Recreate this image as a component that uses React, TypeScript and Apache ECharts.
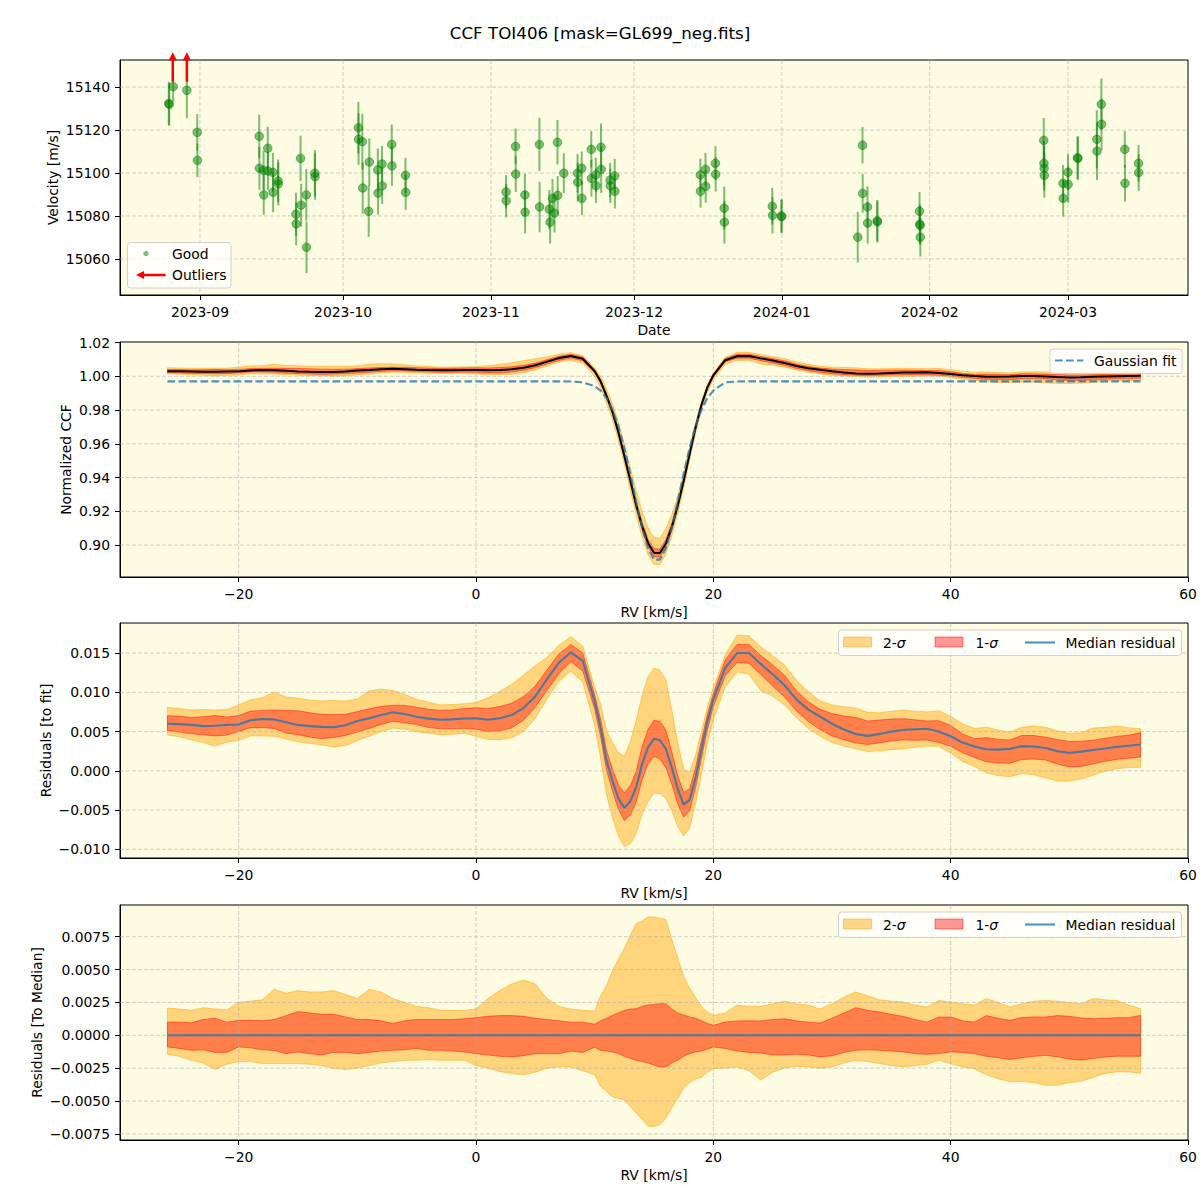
import React, { useEffect, useRef } from 'react';
import * as echarts from 'echarts';

const FONT = 'DejaVu Sans';
const BG = '#fdfbe2';
const TITLE = 'CCF TOI406 [mask=GL699_neg.fits]';

// ---------- Panel 1: RV time series ----------
const rvDates = [
  '2023-08-25T11:00', '2023-08-25T13:00', '2023-08-26T09:00', '2023-08-29T06:00', '2023-08-31T10:00', '2023-08-31T11:00',
  '2023-09-13T10:00', '2023-09-13T11:00', '2023-09-14T08:00', '2023-09-14T09:00', '2023-09-15T05:00', '2023-09-15T06:00',
  '2023-09-16T07:00', '2023-09-16T08:00', '2023-09-17T09:00', '2023-09-17T10:00', '2023-09-21T03:00', '2023-09-21T04:00',
  '2023-09-22T02:00', '2023-09-22T05:00', '2023-09-23T07:00', '2023-09-23T08:00', '2023-09-25T02:00', '2023-09-25T03:00',
  '2023-10-04T05:00', '2023-10-04T06:00', '2023-10-05T01:00', '2023-10-05T03:00', '2023-10-06T12:00', '2023-10-06T09:00',
  '2023-10-08T07:00', '2023-10-08T08:00', '2023-10-09T04:00', '2023-10-09T05:00', '2023-10-11T05:00', '2023-10-11T06:00',
  '2023-10-14T02:00', '2023-10-14T03:00',
  '2023-11-04T04:00', '2023-11-04T05:00', '2023-11-06T04:00', '2023-11-06T05:00', '2023-11-08T03:00', '2023-11-08T04:00',
  '2023-11-11T04:00', '2023-11-11T05:00', '2023-11-13T06:00', '2023-11-13T10:00', '2023-11-13T22:00', '2023-11-14T08:00',
  '2023-11-14T23:00', '2023-11-15T00:00', '2023-11-16T07:00', '2023-11-19T04:00', '2023-11-19T05:00', '2023-11-20T01:00',
  '2023-11-20T02:00', '2023-11-22T01:00', '2023-11-22T02:00', '2023-11-23T00:00', '2023-11-23T01:00', '2023-11-24T02:00',
  '2023-11-24T03:00', '2023-11-26T00:00', '2023-11-26T01:00', '2023-11-26T23:00', '2023-11-27T00:00',
  '2023-12-14T22:00', '2023-12-14T23:00', '2023-12-16T00:00', '2023-12-16T01:00', '2023-12-18T02:00', '2023-12-18T03:00',
  '2023-12-19T22:00', '2023-12-19T23:00', '2023-12-30T00:00', '2023-12-30T01:00', '2023-12-31T22:00', '2023-12-31T23:00',
  '2024-01-16T22:00', '2024-01-17T22:00', '2024-01-17T23:00', '2024-01-18T23:00', '2024-01-19T00:00', '2024-01-21T00:00',
  '2024-01-21T01:00', '2024-01-29T21:00', '2024-01-29T22:00', '2024-01-30T00:00', '2024-01-30T01:00',
  '2024-02-24T22:00', '2024-02-24T23:00', '2024-02-25T00:00', '2024-02-25T01:00', '2024-02-28T23:00', '2024-02-29T00:00',
  '2024-03-01T00:00', '2024-03-01T01:00', '2024-03-03T00:00', '2024-03-03T02:00', '2024-03-07T01:00', '2024-03-07T02:00',
  '2024-03-08T00:00', '2024-03-08T01:00', '2024-03-12T22:00', '2024-03-12T23:00', '2024-03-15T19:00', '2024-03-15T20:00',
];
const rvValues = [
  15132.4, 15132.0, 15140.2, 15138.5, 15118.9, 15105.9,
  15117.1, 15102.2, 15101.3, 15089.8, 15111.5, 15100.9, 15100.3, 15091.0, 15096.3, 15094.9, 15080.8, 15076.3,
  15106.8, 15085.0, 15089.8, 15065.4, 15099.9, 15098.3,
  15121.1, 15115.7, 15114.6, 15093.0, 15105.1, 15082.2, 15101.4, 15090.6, 15104.2, 15094.0, 15113.3, 15103.3,
  15098.9, 15091.0,
  15091.2, 15087.1, 15112.4, 15099.5, 15089.8, 15081.7, 15113.3, 15084.2, 15083.1, 15077.1, 15088.2, 15081.3,
  15114.3, 15089.6, 15099.9, 15099.9, 15095.7, 15102.2, 15088.2, 15111.0, 15097.5, 15099.1, 15094.1, 15112.0,
  15101.7, 15096.7, 15094.0, 15098.6, 15091.5,
  15099.1, 15091.5, 15101.7, 15093.8, 15104.5, 15099.4, 15083.6, 15077.1, 15084.5, 15080.3, 15080.0, 15079.7,
  15070.1, 15112.9, 15090.5, 15084.2, 15076.7, 15077.8, 15077.2, 15082.2, 15076.2, 15075.6, 15070.1,
  15115.2, 15104.5, 15102.2, 15098.9, 15095.2, 15088.2, 15100.3, 15094.7, 15107.1, 15106.8, 15115.7, 15110.2,
  15132.0, 15122.7, 15111.0, 15095.2, 15104.5, 15100.2,
];
const rvErrors = [
  10, 10, 7, 13, 8.5, 7.8,
  10, 10, 9, 9.3, 10, 9, 9, 9.3, 10, 10, 10, 10, 10.6, 10, 12, 12, 10.8, 10.8,
  12, 12, 13, 12, 11, 12, 10, 10, 8.4, 8.4, 9.3, 9.3, 8.2, 8.2,
  7.8, 7.8, 8.3, 8.3, 9.8, 9.8, 12.4, 11.8, 9, 10, 9, 9, 10.4, 9, 9.3, 9, 9, 7.8, 7.8, 8.5, 8.5, 8, 8, 11, 11, 8, 8, 8, 8,
  7.6, 7.6, 7.6, 7.6, 8, 8, 10, 10, 8.5, 8.5, 7.8, 7.8,
  11.8, 8.5, 9, 9.6, 9.6, 9.6, 9.6, 9, 9, 9, 9,
  10.4, 10.4, 10.4, 10.4, 8.5, 8.5, 8.5, 8.5, 10, 10, 13.5, 13.5, 12, 12, 8.5, 8.5, 8.5, 8.5,
];
const outlierDates = ['2023-08-26T07:00', '2023-08-29T06:00'];
const outlierArrowFrom = 15142.5;
const outlierArrowTo = 15156.2;
const dateTicks = ['2023-09-01T00:00', '2023-10-01T00:00', '2023-11-01T00:00', '2023-12-01T00:00', '2024-01-01T00:00', '2024-02-01T00:00', '2024-03-01T00:00'];
const dateMin = '2023-08-15T05:30';
const dateMax = '2024-03-26T04:00';
const velTicks = [15060, 15080, 15100, 15120, 15140];

// ---------- Panels 2-4: CCF ----------
const rvGrid = [
  -26, -25, -24, -23, -22, -21, -20, -19, -18, -17, -16, -15, -14, -13, -12, -11, -10, -9, -8, -7, -6, -5, -4, -3, -2, -1,
  0, 1, 2, 3, 4, 5, 6, 7, 8, 9, 10,
  10.5, 11, 11.5, 12, 12.5, 13, 13.5, 14, 14.5, 15, 15.5, 16, 16.5, 17, 17.5, 18, 18.5, 19, 19.5,
  20, 21, 22, 23, 24, 25, 26, 27, 28, 29, 30, 31, 32, 33, 34, 35, 36, 37, 38, 39, 40, 41, 42, 43, 44, 45, 46, 47, 48, 49,
  50, 51, 52, 53, 54, 55, 56,
];
const gaussFit = [
  // -26 .. 10
  0.997, 0.997, 0.997, 0.997, 0.997, 0.997, 0.997, 0.997, 0.997, 0.997, 0.997, 0.997, 0.997, 0.997, 0.997, 0.997, 0.997,
  0.997, 0.997, 0.997, 0.997, 0.997, 0.997, 0.997, 0.997, 0.997, 0.997, 0.997, 0.997, 0.997, 0.997, 0.997, 0.997, 0.997,
  0.9969, 0.9964, 0.9942,
  // 10.5 .. 19.5
  0.9915, 0.9871, 0.9802, 0.9704, 0.9576, 0.9423, 0.9258, 0.9103, 0.8981, 0.8914, 0.8914, 0.8981, 0.9103, 0.9258, 0.9423,
  0.9576, 0.9704, 0.9802, 0.9871,
  // 20 .. 56
  0.9915, 0.9964, 0.9969, 0.997, 0.997, 0.997, 0.997, 0.997, 0.997, 0.997, 0.997, 0.997, 0.997, 0.997, 0.997, 0.997,
  0.997, 0.997, 0.997, 0.997, 0.997, 0.997, 0.997, 0.997, 0.997, 0.997, 0.997, 0.997, 0.997, 0.997, 0.997, 0.997, 0.997,
  0.997, 0.997, 0.997, 0.997,
];
const residMedian = [
  0.006, 0.00595, 0.00585, 0.0057, 0.00575, 0.00585, 0.0059, 0.00645, 0.0066, 0.00655, 0.0062, 0.00585, 0.0057, 0.0056,
  0.00555, 0.0058, 0.00635, 0.0067, 0.0071, 0.00745, 0.00723, 0.0069, 0.00665, 0.0065, 0.00655, 0.00667,
  0.0067, 0.0065, 0.0067, 0.0071, 0.008, 0.0095, 0.0117, 0.0138, 0.0151, 0.014, 0.0088,
  0.0055, 0.0013, -0.0013, -0.0035, -0.00472, -0.0039, -0.0021, 0.0009, 0.003, 0.0041, 0.0039, 0.0028, 0.0004, -0.0023,
  -0.0043, -0.0037, -0.0009, 0.0028, 0.0063,
  0.0091, 0.0131, 0.015, 0.015, 0.0136, 0.0123, 0.0109, 0.0091, 0.0078, 0.0069, 0.006, 0.00527, 0.0047, 0.00445, 0.0047,
  0.005, 0.0052, 0.0053, 0.00536, 0.005, 0.0044, 0.0036, 0.0031, 0.00275, 0.0027, 0.0028, 0.00315, 0.0031, 0.0029, 0.0025,
  0.0023, 0.00245, 0.00265, 0.00285, 0.00305, 0.0032, 0.00335,
];
// spread of the individual residuals around the median (2-sigma / 1-sigma, upper and lower)
const sig2Upper = [
  0.00207, 0.002, 0.0019, 0.0021, 0.002, 0.00195, 0.0025, 0.0026, 0.0027, 0.0035, 0.0032, 0.0034, 0.0033, 0.0033, 0.0034,
  0.0031, 0.0028, 0.0035, 0.0033, 0.0028, 0.0025, 0.0022, 0.0021, 0.0019, 0.0019, 0.00189,
  0.002, 0.0028, 0.0034, 0.0039, 0.0042, 0.0039, 0.0028, 0.0022, 0.002, 0.0019, 0.00185,
  0.003, 0.0038, 0.0049, 0.0058, 0.0066, 0.0076, 0.0085, 0.0087, 0.009, 0.009, 0.0089, 0.0088, 0.0073, 0.0059, 0.0045,
  0.0036, 0.0029, 0.0022, 0.0018,
  0.00152, 0.0017, 0.0023, 0.0022, 0.0022, 0.0024, 0.0026, 0.0024, 0.0023, 0.002, 0.0024, 0.0029, 0.0033, 0.003, 0.0027,
  0.0026, 0.00253, 0.0023, 0.00215, 0.00265, 0.00253, 0.0024, 0.0023, 0.0028, 0.0025, 0.00215, 0.0024, 0.0026, 0.00265,
  0.0026, 0.0025, 0.0024, 0.0028, 0.0027, 0.00265, 0.0023, 0.00202,
];
const sig1Upper = [
  0.00101, 0.001, 0.00095, 0.0012, 0.0013, 0.001, 0.00114, 0.00115, 0.0011, 0.0012, 0.0015, 0.0018, 0.0017, 0.0016, 0.0016,
  0.0014, 0.0012, 0.0012, 0.0011, 0.0009, 0.0011, 0.0012, 0.0012, 0.0012, 0.0012, 0.00126,
  0.00134, 0.00145, 0.0015, 0.0015, 0.00145, 0.0013, 0.0012, 0.0011, 0.001, 0.001, 0.00085,
  0.0011, 0.0013, 0.00152, 0.0017, 0.0019, 0.002, 0.00202, 0.0022, 0.0023, 0.00235, 0.0024, 0.0024, 0.002, 0.0017, 0.00155,
  0.0014, 0.0013, 0.0011, 0.0009,
  0.00076, 0.00101, 0.00109, 0.0011, 0.00109, 0.0012, 0.00126, 0.0011, 0.001, 0.00093, 0.0013, 0.0017, 0.0021, 0.0019,
  0.00177, 0.0016, 0.00144, 0.0012, 0.001, 0.00139, 0.00139, 0.0011, 0.001, 0.0015, 0.0013, 0.00114, 0.00135, 0.0014,
  0.00139, 0.0015, 0.00145, 0.00132, 0.00126, 0.0013, 0.00134, 0.00134, 0.00152,
];
const sig1Lower = [
  -0.00088, -0.001, -0.00114, -0.0011, -0.0013, -0.0013, -0.00088, -0.00095, -0.0011, -0.00115, -0.0014, -0.00126, -0.0014,
  -0.0015, -0.0013, -0.0013, -0.0014, -0.0013, -0.0012, -0.00114, -0.0011, -0.001, -0.00114, -0.00114, -0.0012, -0.00126,
  -0.00139, -0.0015, -0.0016, -0.00164, -0.00155, -0.00139, -0.00139, -0.0014, -0.0012, -0.0013, -0.0009,
  -0.00114, -0.0012, -0.00126, -0.00139, -0.0016, -0.00175, -0.00189, -0.002, -0.0021, -0.00227, -0.0024, -0.0024, -0.0021,
  -0.0019, -0.0016, -0.0014, -0.00126, -0.0012, -0.00105,
  -0.00088, -0.001, -0.00119, -0.0013, -0.00134, -0.0015, -0.0015, -0.00144, -0.0015, -0.00164, -0.00155, -0.0013, -0.00114,
  -0.0011, -0.00114, -0.0012, -0.00126, -0.0014, -0.00144, -0.00139, -0.00126, -0.0013, -0.00139, -0.0016, -0.0017, -0.00184,
  -0.0017, -0.0016, -0.00152, -0.00164, -0.0018, -0.00189, -0.00177, -0.00164, -0.00159, -0.00159, -0.00159,
];
const sig2Lower = [
  -0.00144, -0.0016, -0.0019, -0.0021, -0.0026, -0.0022, -0.002, -0.002, -0.00215, -0.00215, -0.00215, -0.00215, -0.0022,
  -0.0023, -0.0025, -0.0026, -0.0025, -0.0023, -0.0021, -0.002, -0.0019, -0.0019, -0.00185, -0.0019, -0.0019, -0.00189,
  -0.0023, -0.0025, -0.00275, -0.0029, -0.003, -0.0028, -0.0025, -0.0024, -0.0024, -0.0027, -0.003,
  -0.0039, -0.0043, -0.00467, -0.0048, -0.00492, -0.0054, -0.00593, -0.0064, -0.0069, -0.00694, -0.0068, -0.0063, -0.0055,
  -0.0048, -0.004, -0.0036, -0.0033, -0.0032, -0.0028,
  -0.00253, -0.0025, -0.0024, -0.0027, -0.0034, -0.0028, -0.0025, -0.00235, -0.0024, -0.0025, -0.0024, -0.0021, -0.0019,
  -0.002, -0.00215, -0.0023, -0.0024, -0.0023, -0.0022, -0.00189, -0.00215, -0.0024, -0.00255, -0.003, -0.0033, -0.00354,
  -0.0035, -0.0036, -0.0038, -0.0038, -0.0036, -0.0035, -0.0032, -0.0029, -0.00278, -0.00278, -0.0029,
];
const rvTicks = [-20, 0, 20, 40, 60];
const ccfTicks = [0.9, 0.92, 0.94, 0.96, 0.98, 1.0, 1.02];
const resTicks = [-0.01, -0.005, 0, 0.005, 0.01, 0.015];
const medTicks = [-0.0075, -0.005, -0.0025, 0, 0.0025, 0.005, 0.0075];

// ---------- helpers ----------
const ts = (s: string) => new Date(s).getTime();
const minus = (s: string) => s.replace('-', '\u2212');
const fmtFixed = (n: number) => (v: number) => (v < 0 ? '\u2212' + Math.abs(v).toFixed(n) : Math.abs(v).toFixed(n));
const pad = (n: number) => (n < 10 ? '0' + n : '' + n);

const GRIDS = [
  { left: 120, top: 60, width: 1068, height: 235 },
  { left: 120, top: 342, width: 1068, height: 235 },
  { left: 120, top: 623, width: 1068, height: 235 },
  { left: 120, top: 905, width: 1068, height: 235 },
];

const ORANGE_FILL = 'rgba(255,165,0,0.45)';
const ORANGE_EDGE = 'rgba(255,165,0,0.5)';
const RED_FILL = 'rgba(255,0,0,0.4)';
const RED_EDGE = 'rgba(255,0,0,0.45)';
const BLUE = 'rgba(31,119,180,0.8)';
const GREEN = 'rgba(0,128,0,0.5)';
const GRID_LINE = 'rgba(176,176,176,0.6)';

function axisBase(extra: any) {
  return {
    axisLine: { show: true, onZero: false, lineStyle: { color: '#000', width: 1 } },
    axisTick: { show: true, length: 5, inside: false, lineStyle: { color: '#000', width: 1 } },
    axisLabel: { color: '#000', fontSize: 13.9, fontFamily: FONT, margin: 10 },
    splitLine: { show: false },
    nameLocation: 'middle',
    nameMoveOverlap: false,
    nameTextStyle: { color: '#000', fontSize: 13.9, fontFamily: FONT },
    ...extra,
  };
}

function bandSeries(idx: number, lo: number[], hi: number[], fill: string, stroke: string) {
  const data = rvGrid.map((x, i) => [x, lo[i], hi[i]]);
  return {
    type: 'custom',
    xAxisIndex: idx,
    yAxisIndex: idx,
    z: 1,
    silent: true,
    data,
    encode: { x: 0, y: [1, 2] },
    renderItem: (params: any, api: any) => {
      if (params.dataIndex !== 0) return null;
      const pts: number[][] = [];
      for (let i = 0; i < data.length; i++) pts.push(api.coord([data[i][0], data[i][2]]));
      for (let i = data.length - 1; i >= 0; i--) pts.push(api.coord([data[i][0], data[i][1]]));
      return { type: 'polygon', shape: { points: pts }, style: { fill, stroke, lineWidth: 1 } };
    },
  };
}

function gridLines(idx: number, xTicks: number[], yTicks: number[]) {
  return {
    type: 'custom',
    xAxisIndex: idx,
    yAxisIndex: idx,
    z: 2,
    silent: true,
    data: [[xTicks[0], yTicks[0]]],
    encode: { x: 0, y: 1 },
    renderItem: (params: any, api: any) => {
      const cs = params.coordSys;
      const children: any[] = [];
      const st = { stroke: GRID_LINE, lineWidth: 1, lineDash: [4, 2] };
      xTicks.forEach((v) => {
        const x = api.coord([v, yTicks[0]])[0];
        if (x > cs.x + 1 && x < cs.x + cs.width - 1)
          children.push({ type: 'line', shape: { x1: x, y1: cs.y, x2: x, y2: cs.y + cs.height }, style: st });
      });
      yTicks.forEach((v) => {
        const y = api.coord([xTicks[0], v])[1];
        if (y > cs.y + 1 && y < cs.y + cs.height - 1)
          children.push({ type: 'line', shape: { x1: cs.x, y1: y, x2: cs.x + cs.width, y2: y }, style: st });
      });
      return { type: 'group', children };
    },
  };
}

function lineSeries(idx: number, ys: number[], color: string, width: number, z: number, dash?: number[]) {
  return {
    type: 'line',
    xAxisIndex: idx,
    yAxisIndex: idx,
    z,
    silent: true,
    showSymbol: false,
    symbol: 'none',
    data: rvGrid.map((x, i) => [x, ys[i]]),
    lineStyle: { color, width, type: dash || 'solid' },
  };
}

function legendBox(x: number, y: number, w: number, h: number) {
  return {
    type: 'rect',
    shape: { x, y, width: w, height: h, r: 3 },
    style: { fill: 'rgba(255,255,255,0.8)', stroke: '#d0d0d0', lineWidth: 1 },
    z: 100,
  };
}
function legendText(x: number, y: number, text: string, rich?: any) {
  const style: any = {
    text,
    fill: '#000',
    fontSize: 13.9,
    fontFamily: FONT,
    align: 'left',
    verticalAlign: 'middle',
  };
  if (rich) style.rich = rich;
  return { type: 'text', x, y, z: 101, style };
}
function sigmaLegend(cy: number) {
  const rich = { i: { fontStyle: 'italic', fontSize: 13.9, fontFamily: FONT, fill: '#000' } };
  return [
    legendBox(838.5, cy - 12.5, 343, 25.5),
    { type: 'rect', z: 101, shape: { x: 843.5, y: cy - 5.5, width: 28, height: 10 }, style: { fill: ORANGE_FILL, stroke: ORANGE_EDGE, lineWidth: 1 } },
    legendText(883, cy, '2-{i|σ}', rich),
    { type: 'rect', z: 101, shape: { x: 935, y: cy - 5.5, width: 28, height: 10 }, style: { fill: RED_FILL, stroke: RED_EDGE, lineWidth: 1 } },
    legendText(975.5, cy, '1-{i|σ}', rich),
    { type: 'line', z: 101, shape: { x1: 1025, y1: cy, x2: 1055, y2: cy }, style: { stroke: BLUE, lineWidth: 2.1 } },
    legendText(1065.5, cy, 'Median residual'),
  ];
}

function buildOption() {
  const ccf = gaussFit.map((g, i) => g + residMedian[i]);
  const ccf2Lo = ccf.map((c, i) => c + sig2Lower[i]);
  const ccf2Hi = ccf.map((c, i) => c + sig2Upper[i]);
  const ccf1Lo = ccf.map((c, i) => c + sig1Lower[i]);
  const ccf1Hi = ccf.map((c, i) => c + sig1Upper[i]);
  const res2Lo = residMedian.map((m, i) => m + sig2Lower[i]);
  const res2Hi = residMedian.map((m, i) => m + sig2Upper[i]);
  const res1Lo = residMedian.map((m, i) => m + sig1Lower[i]);
  const res1Hi = residMedian.map((m, i) => m + sig1Upper[i]);
  const toMedian = residMedian.map((m) => m - m);

  const dateTickTs = dateTicks.map(ts);
  const rvData = rvDates.map((d, i) => [ts(d), rvValues[i], rvErrors[i]]);

  const rvXAxis = (idx: number) =>
    axisBase({
      type: 'value',
      gridIndex: idx,
      min: -30,
      max: 60,
      name: 'RV [km/s]',
      nameGap: 28,
      axisTick: { show: true, length: 5, customValues: rvTicks, lineStyle: { color: '#000', width: 1 } },
      axisLabel: { color: '#000', fontSize: 13.9, fontFamily: FONT, margin: 10, customValues: rvTicks, formatter: (v: number) => minus(String(v)) },
    });

  const yAxisFor = (idx: number, min: number, max: number, ticks: number[], fmt: (v: number) => string, name: string, gap: number) =>
    axisBase({
      type: 'value',
      gridIndex: idx,
      min,
      max,
      name,
      nameGap: gap,
      axisTick: { show: true, length: 5, customValues: ticks, lineStyle: { color: '#000', width: 1 } },
      axisLabel: { color: '#000', fontSize: 13.9, fontFamily: FONT, margin: 10, customValues: ticks, formatter: fmt },
    });

  const graphic: any[] = [
    // panel 1 legend
    legendBox(127.5, 242.5, 103.5, 45.5),
    { type: 'circle', z: 101, shape: { cx: 146, cy: 253.5, r: 2.7 }, style: { fill: GREEN } },
    legendText(172, 253.5, 'Good'),
    { type: 'line', z: 101, shape: { x1: 142, y1: 275, x2: 165.5, y2: 275 }, style: { stroke: 'red', lineWidth: 2.5 } },
    { type: 'polygon', z: 101, shape: { points: [[136, 275], [144, 271], [144, 279]] }, style: { fill: 'red' } },
    legendText(172, 275, 'Outliers'),
    // panel 2 legend
    legendBox(1050, 349, 132, 24.5),
    { type: 'line', z: 101, shape: { x1: 1055, y1: 360.5, x2: 1083.5, y2: 360.5 }, style: { stroke: BLUE, lineWidth: 2.1, lineDash: [7.7, 3.3] } },
    legendText(1094, 361, 'Gaussian fit'),
    ...sigmaLegend(642.5),
    ...sigmaLegend(924.5),
  ];

  return {
    animation: false,
    backgroundColor: '#ffffff',
    title: {
      text: TITLE,
      left: 'center',
      top: 19,
      textStyle: { fontSize: 16.7, fontWeight: 'normal', fontFamily: FONT, color: '#000' },
    },
    grid: GRIDS.map((g) => ({ ...g, show: true, backgroundColor: BG, borderColor: '#000', borderWidth: 1, containLabel: false })),
    xAxis: [
      axisBase({
        type: 'value',
        gridIndex: 0,
        min: ts(dateMin),
        max: ts(dateMax),
        name: 'Date',
        nameGap: 28,
        axisTick: { show: true, length: 5, customValues: dateTickTs, lineStyle: { color: '#000', width: 1 } },
        axisLabel: {
          color: '#000',
          fontSize: 13.9,
          fontFamily: FONT,
          margin: 10,
          customValues: dateTickTs,
          formatter: (v: number) => {
            const d = new Date(v);
            return d.getFullYear() + '-' + pad(d.getMonth() + 1);
          },
        },
      }),
      rvXAxis(1),
      rvXAxis(2),
      rvXAxis(3),
    ],
    yAxis: [
      yAxisFor(0, 15043.2, 15152.6, velTicks, (v: number) => String(v), 'Velocity [m/s]', 60),
      yAxisFor(1, 0.8811, 1.0203, ccfTicks, fmtFixed(2), 'Normalized CCF', 47),
      yAxisFor(2, -0.0111, 0.01883, resTicks, fmtFixed(3), 'Residuals [to fit]', 67),
      yAxisFor(3, -0.00796, 0.00991, medTicks, fmtFixed(4), 'Residuals [To Median]', 76),
    ],
    graphic,
    series: [
      // ----- panel 1 -----
      gridLines(0, dateTickTs, velTicks),
      {
        type: 'custom',
        xAxisIndex: 0,
        yAxisIndex: 0,
        z: 3,
        silent: true,
        data: rvData,
        encode: { x: 0, y: 1 },
        renderItem: (params: any, api: any) => {
          const t = api.value(0);
          const v = api.value(1);
          const e = api.value(2);
          const a = api.coord([t, v - e]);
          const b = api.coord([t, v + e]);
          return { type: 'line', shape: { x1: a[0], y1: a[1], x2: b[0], y2: b[1] }, style: { stroke: GREEN, lineWidth: 2 } };
        },
      },
      {
        type: 'scatter',
        name: 'Good',
        xAxisIndex: 0,
        yAxisIndex: 0,
        z: 4,
        silent: true,
        symbol: 'circle',
        symbolSize: 8.5,
        data: rvData.map((d) => [d[0], d[1]]),
        itemStyle: { color: GREEN, borderColor: GREEN, borderWidth: 1, opacity: 1 },
      },
      {
        type: 'custom',
        name: 'Outliers',
        xAxisIndex: 0,
        yAxisIndex: 0,
        z: 5,
        silent: true,
        clip: false,
        data: outlierDates.map((d) => [ts(d), outlierArrowFrom, outlierArrowTo]),
        encode: { x: 0, y: 1 },
        renderItem: (params: any, api: any) => {
          const t = api.value(0);
          const a = api.coord([t, api.value(1)]);
          const b = api.coord([t, api.value(2)]);
          return {
            type: 'group',
            children: [
              { type: 'line', shape: { x1: a[0], y1: a[1], x2: b[0], y2: b[1] + 6 }, style: { stroke: 'red', lineWidth: 2.5 } },
              { type: 'polygon', shape: { points: [[b[0], b[1]], [b[0] - 4, b[1] + 8], [b[0] + 4, b[1] + 8]] }, style: { fill: 'red' } },
            ],
          };
        },
      },
      // ----- panel 2 -----
      bandSeries(1, ccf2Lo, ccf2Hi, ORANGE_FILL, ORANGE_EDGE),
      bandSeries(1, ccf1Lo, ccf1Hi, RED_FILL, RED_EDGE),
      gridLines(1, rvTicks, ccfTicks),
      lineSeries(1, ccf, '#000000', 2, 3),
      lineSeries(1, gaussFit, BLUE, 2.1, 4, [7.7, 3.3]),
      // ----- panel 3 -----
      bandSeries(2, res2Lo, res2Hi, ORANGE_FILL, ORANGE_EDGE),
      bandSeries(2, res1Lo, res1Hi, RED_FILL, RED_EDGE),
      gridLines(2, rvTicks, resTicks),
      lineSeries(2, residMedian, BLUE, 2.1, 3),
      // ----- panel 4 -----
      bandSeries(3, sig2Lower, sig2Upper, ORANGE_FILL, ORANGE_EDGE),
      bandSeries(3, sig1Lower, sig1Upper, RED_FILL, RED_EDGE),
      gridLines(3, rvTicks, medTicks),
      lineSeries(3, toMedian, BLUE, 2.1, 3),
    ],
  };
}

export default function App() {
  const ref = useRef<HTMLDivElement>(null);
  useEffect(() => {
    if (!ref.current) return;
    const chart = echarts.init(ref.current, null, { renderer: 'svg' });
    chart.setOption(buildOption() as any);
    return () => chart.dispose();
  }, []);
  return (
    <div
      ref={ref}
      style={{ position: 'absolute', left: 0, top: 0, width: 1200, height: 1200, background: '#fff' }}
    />
  );
}
